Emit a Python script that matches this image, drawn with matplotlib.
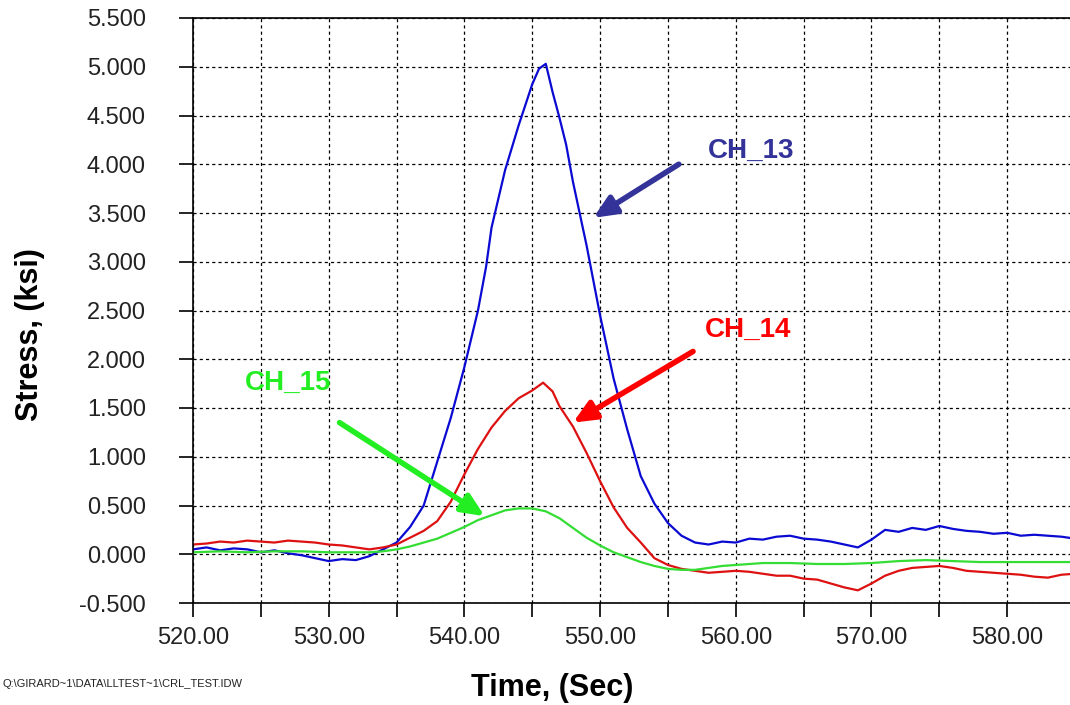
import numpy as np
import matplotlib
matplotlib.use("Agg")
import matplotlib.pyplot as plt
from matplotlib.ticker import MultipleLocator, FormatStrFormatter

plt.rcParams['font.family'] = ['Liberation Sans', 'DejaVu Sans']

# CH_13 (blue)
t_13 = [520, 521, 522, 523, 524, 525, 526, 527, 528, 529, 530, 531, 532, 533,
        534, 535, 536, 537, 538, 539, 540, 541, 541.6, 542, 543, 544, 545, 545.5, 546,
        546.5, 547, 547.5, 548, 549, 550, 551, 552, 553, 554, 555, 556, 557, 558,
        559, 560, 561, 562, 563, 564, 565, 566, 567, 568, 569, 570, 571, 572, 573,
        574, 575, 576, 577, 578, 579, 580, 581, 582, 583, 584, 585]
ch_13 = [0.05, 0.07, 0.04, 0.06, 0.05, 0.02, 0.04, 0.01, -0.01, -0.04, -0.07, -0.05,
         -0.06, -0.02, 0.05, 0.12, 0.28, 0.50, 0.95, 1.40, 1.92, 2.50, 2.95, 3.35, 3.94,
         4.40, 4.82, 4.98, 5.03, 4.74, 4.48, 4.20, 3.82, 3.17, 2.45, 1.80, 1.28, 0.80,
         0.52, 0.32, 0.19, 0.12, 0.10, 0.13, 0.12, 0.16, 0.15, 0.18, 0.19, 0.16, 0.15,
         0.13, 0.10, 0.07, 0.15, 0.25, 0.23, 0.27, 0.25, 0.29, 0.26, 0.24, 0.23, 0.21,
         0.22, 0.19, 0.20, 0.19, 0.18, 0.16]

# CH_14 (red)
t_14 = [520, 521, 522, 523, 524, 525, 526, 527, 528, 529, 530, 531, 532, 533, 534,
        535, 536, 537, 538, 539, 540, 541, 542, 543, 544, 545, 545.8, 546.5, 547,
        548, 549, 550, 551, 552, 553, 554, 555, 556, 557, 558, 559, 560, 561, 562,
        563, 564, 565, 566, 567, 568, 569, 570, 571, 572, 573, 574, 575, 576, 577,
        578, 579, 580, 581, 582, 583, 584, 585]
ch_14 = [0.10, 0.11, 0.13, 0.12, 0.14, 0.13, 0.12, 0.14, 0.13, 0.12, 0.10, 0.09, 0.07,
         0.05, 0.07, 0.10, 0.17, 0.24, 0.34, 0.54, 0.82, 1.08, 1.30, 1.47, 1.60, 1.68,
         1.76, 1.67, 1.52, 1.31, 1.04, 0.75, 0.48, 0.27, 0.12, -0.04, -0.11, -0.15,
         -0.17, -0.19, -0.18, -0.17, -0.18, -0.20, -0.22, -0.22, -0.25, -0.26, -0.30,
         -0.34, -0.37, -0.30, -0.22, -0.17, -0.14, -0.13, -0.12, -0.14, -0.17, -0.18,
         -0.19, -0.20, -0.21, -0.23, -0.24, -0.21, -0.20]

# CH_15 (green)
t_15 = [520, 522, 524, 526, 528, 530, 532, 533, 534, 535, 536, 537, 538, 539, 540,
        541, 542, 543, 544, 545, 546, 547, 548, 549, 550, 551, 552, 553, 554, 555,
        556, 557, 558, 559, 560, 562, 564, 566, 568, 570, 572, 574, 576, 578, 580,
        582, 585]
ch_15 = [0.02, 0.03, 0.02, 0.03, 0.03, 0.02, 0.02, 0.02, 0.03, 0.05, 0.08, 0.12, 0.16,
         0.22, 0.28, 0.35, 0.40, 0.45, 0.47, 0.47, 0.44, 0.37, 0.27, 0.17, 0.09, 0.02,
         -0.03, -0.08, -0.12, -0.15, -0.16, -0.16, -0.14, -0.12, -0.11, -0.09, -0.09,
         -0.10, -0.10, -0.09, -0.07, -0.06, -0.07, -0.08, -0.08, -0.08, -0.08]

fig = plt.figure(figsize=(10.7, 7.05), dpi=100)
ax = fig.add_axes([193 / 1070, 102 / 705, 877 / 1070, 585 / 705])

ax.plot(t_13, ch_13, color='#0a0ad2', lw=1.6)
ax.plot(t_14, ch_14, color='#dd1111', lw=1.6)
ax.plot(t_15, ch_15, color='#33dd33', lw=1.6)

ax.set_xlim(520, 584.63)
ax.set_ylim(-0.5, 5.5)
ax.xaxis.set_major_locator(MultipleLocator(10))
ax.xaxis.set_minor_locator(MultipleLocator(5))
ax.yaxis.set_major_locator(MultipleLocator(0.5))
ax.xaxis.set_major_formatter(FormatStrFormatter('%.2f'))
ax.yaxis.set_major_formatter(FormatStrFormatter('%.3f'))
ax.tick_params(axis='both', which='both', direction='out', length=10, width=1.2,
               labelsize=17, labelcolor='#222222')
ax.tick_params(axis='y', pad=24)
ax.tick_params(axis='x', pad=7)
ax.grid(True, which='both', color='black', linestyle=(0, (2.5, 2.5)), lw=0.9)
ax.spines['right'].set_visible(False)
for s in ['left', 'top', 'bottom']:
    ax.spines[s].set_linewidth(1.2)

arrows = [
    ('CH_13', '#333399', (549.5, 3.45), (555.8, 4.00), (561.1, 4.14)),
    ('CH_14', '#ff0000', (548.0, 1.35), (556.85, 2.08), (560.9, 2.30)),
    ('CH_15', '#22ee22', (541.5, 0.39), (530.8, 1.35), (527.0, 1.76)),
]
for name, col, tip, tail, txt in arrows:
    ax.annotate('', xy=tip, xytext=tail,
                arrowprops=dict(arrowstyle='-|>,head_width=0.4,head_length=0.9',
                                lw=4, color=col, mutation_scale=15,
                                shrinkA=0, shrinkB=0))
    ax.text(txt[0], txt[1], name, color=col, fontsize=20, fontweight='bold',
            ha='center', va='center')

fig.text(30 / 1070, 1 - 335 / 705, 'Stress, (ksi)', rotation=90, fontsize=22,
         fontweight='bold', ha='center', va='center')
fig.text(552 / 1070, 1 - 688 / 705, 'Time, (Sec)', fontsize=22,
         fontweight='bold', ha='center', va='center')
fig.text(3 / 1070, 1 - 684 / 705, 'Q:\\GIRARD~1\\DATA\\LLTEST~1\\CRL_TEST.IDW',
         fontsize=8, ha='left', va='center', color='#222222')

fig.savefig('out.png', dpi=100)
